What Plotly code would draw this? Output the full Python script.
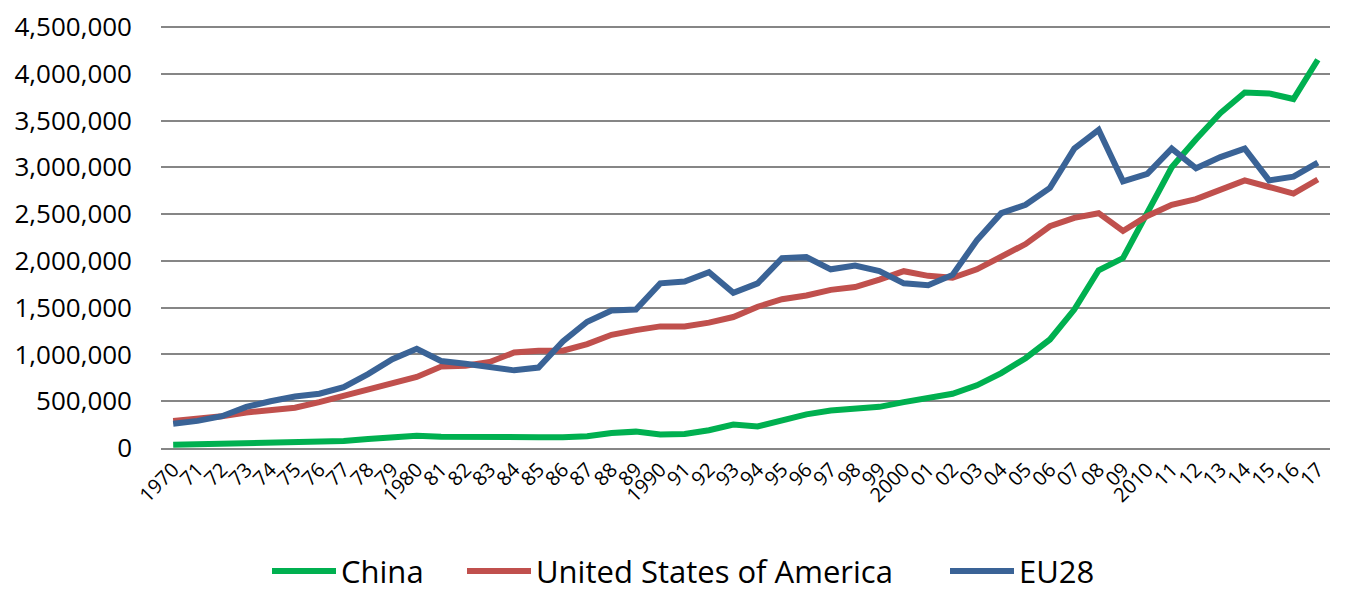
import plotly.graph_objects as go

years = list(range(1970, 2018))
tick_labels = ["1970", "71", "72", "73", "74", "75", "76", "77", "78", "79",
               "1980", "81", "82", "83", "84", "85", "86", "87", "88", "89",
               "1990", "91", "92", "93", "94", "95", "96", "97", "98", "99",
               "2000", "01", "02", "03", "04", "05", "06", "07", "08", "09",
               "2010", "11", "12", "13", "14", "15", "16", "17"]

china = [35000, 40000, 45000, 52000, 55000, 65000, 63000, 75000, 95000, 110000,
         130000, 120000, 115000, 120000, 120000, 115000, 115000, 125000, 160000, 175000,
         145000, 150000, 190000, 250000, 230000, 300000, 360000, 400000, 415000, 440000,
         490000, 530000, 580000, 670000, 800000, 960000, 1160000, 1480000, 1900000, 2030000,
         2500000, 3000000, 3300000, 3580000, 3800000, 3790000, 3730000, 4150000]

usa = [290000, 310000, 340000, 380000, 410000, 430000, 490000, 560000, 630000, 700000,
       760000, 870000, 880000, 920000, 1020000, 1040000, 1040000, 1110000, 1210000, 1260000,
       1300000, 1300000, 1340000, 1400000, 1510000, 1590000, 1630000, 1690000, 1720000, 1800000,
       1890000, 1840000, 1820000, 1910000, 2040000, 2180000, 2370000, 2460000, 2510000, 2320000,
       2480000, 2600000, 2660000, 2760000, 2860000, 2790000, 2720000, 2870000]

eu28 = [260000, 290000, 340000, 440000, 500000, 550000, 580000, 650000, 790000, 950000,
        1060000, 930000, 900000, 870000, 830000, 860000, 1140000, 1350000, 1470000, 1480000,
        1760000, 1780000, 1880000, 1660000, 1760000, 2030000, 2040000, 1910000, 1950000, 1890000,
        1760000, 1740000, 1850000, 2220000, 2510000, 2600000, 2780000, 3200000, 3400000, 2850000,
        2930000, 3200000, 2990000, 3110000, 3200000, 2860000, 2900000, 3050000]

series_names = ["China", "United States of America", "EU28"]
series_values = [china, usa, eu28]
series_colors = ["#00B050", "#C0504D", "#3A6396"]

font_family = "Open Sans, Noto Sans, DejaVu Sans, sans-serif"

# the page body has an 8px margin; size the figure so the plot lands where the original is
OFF = 8
W, H = 1348, 596
PLOT_L, PLOT_R, PLOT_T, PLOT_B = 161, 1330, 25, 448   # page pixel positions of the plot area
Y_TOP_GRID_PX = 27                                     # page pixel of the 4,500,000 gridline
ML = PLOT_L - OFF
MT = PLOT_T - OFF
MR = W - (PLOT_R - OFF)
MB = H - (PLOT_B - OFF)
PW, PH = PLOT_R - PLOT_L, PLOT_B - PLOT_T
Y_MAX = 4500000 * PH / (PLOT_B - Y_TOP_GRID_PX)

fig = go.Figure()
for name, vals, color in zip(series_names, series_values, series_colors):
    fig.add_trace(go.Scatter(x=years, y=vals, mode="lines", name=name,
                             line=dict(color=color, width=6), showlegend=False))

# custom legend (long line samples like the original), positioned in page pixels
legend_line_starts = [272, 467, 950]
legend_line_len = 64
legend_y_px = 571
shapes = []
annotations = []
for name, color, x0 in zip(series_names, series_colors, legend_line_starts):
    px0 = (x0 - PLOT_L) / PW
    px1 = (x0 + legend_line_len - PLOT_L) / PW
    py = (PLOT_B - legend_y_px) / PH
    shapes.append(dict(type="line", xref="paper", yref="paper", x0=px0, x1=px1, y0=py, y1=py,
                       line=dict(color=color, width=6)))
    annotations.append(dict(xref="paper", yref="paper", x=(x0 + legend_line_len + 3 - PLOT_L) / PW,
                            y=py, xanchor="left", yanchor="middle", showarrow=False,
                            text=name, font=dict(size=31, color="black", family=font_family)))

fig.update_layout(
    width=W, height=H,
    margin=dict(l=ML, r=MR, t=MT, b=MB, autoexpand=False),
    paper_bgcolor="white", plot_bgcolor="white",
    font=dict(family=font_family, color="black"),
    showlegend=False,
    shapes=shapes,
    annotations=annotations,
    xaxis=dict(range=[1969.5, 2017.5], tickmode="array", tickvals=years, ticktext=tick_labels,
               tickangle=-45, tickfont=dict(size=20), showgrid=False, showline=True,
               linecolor="#868686", linewidth=2, ticks="", zeroline=False, automargin=False,
               ticklabeloverflow="allow"),
    yaxis=dict(range=[0, Y_MAX], tick0=0, dtick=500000, tickformat=",", tickfont=dict(size=26),
               showgrid=True, gridcolor="#868686", gridwidth=2, showline=False,
               zeroline=False, ticks="", ticklabelstandoff=28, automargin=False,
               ticklabeloverflow="allow"),
)

fig.write_html("out.html")
